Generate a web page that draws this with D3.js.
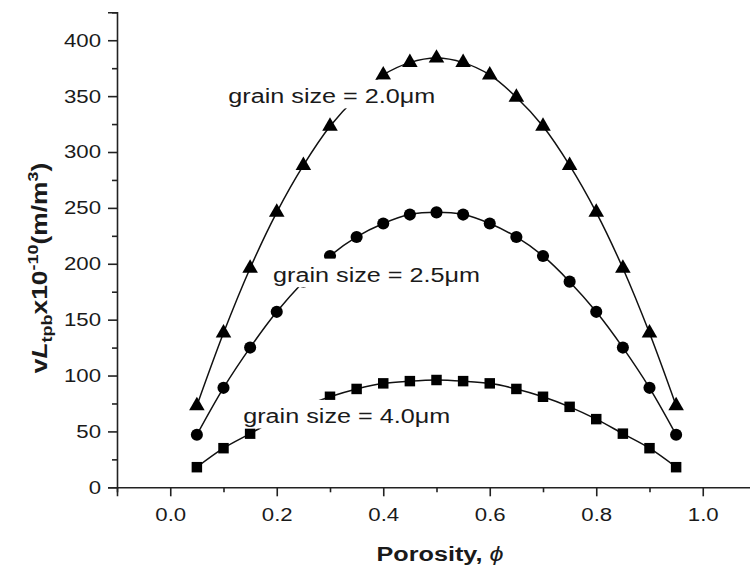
<!DOCTYPE html>
<html>
<head>
<meta charset="utf-8">
<script src="https://cdn.jsdelivr.net/npm/d3@7"></script>
<style>
  body { margin: 0; background: #fff; }
  svg { display: block; font-family: "Liberation Sans", Arial, sans-serif; }
</style>
</head>
<body>
<div id="chart"></div>
<script>
// porosity vs vL_tpb for three grain sizes

const WIDTH = 750
const HEIGHT = 572
const STRETCH = 1.2   // the original text is drawn a bit wide

// data
const porosity = [0.05, 0.10, 0.15, 0.20, 0.25, 0.30, 0.35, 0.40, 0.45, 0.50,
                  0.55, 0.60, 0.65, 0.70, 0.75, 0.80, 0.85, 0.90, 0.95]
const grain20 = [73, 138, 196, 246, 288, 323, 349, 369, 380, 384,
                 380, 369, 349, 323, 288, 246, 196, 138, 73]
const grain25 = [47, 89, 125, 157, 184, 207, 224, 236, 244, 246,
                 244, 236, 224, 207, 184, 157, 125, 89, 47]
const grain40 = [18, 35, 48, 61, 72, 81, 88, 93, 95, 96,
                 95, 93, 88, 81, 72, 61, 48, 35, 18]

const xTicks = [0, 0.2, 0.4, 0.6, 0.8, 1.0]
const xMinor = [-0.1, 0.1, 0.3, 0.5, 0.7, 0.9, 1.1]
const yTicks = [0, 50, 100, 150, 200, 250, 300, 350, 400]
const yMinor = [25, 75, 125, 175, 225, 275, 325, 375, 425]

// label anchors in data units (left end of text, baseline)
const labels = [
    { text: "grain size = 2.0", phi: 0.109, val: 344 },
    { text: "grain size = 2.5", phi: 0.193, val: 184 },
    { text: "grain size = 4.0", phi: 0.137, val: 57.6 }
]

const series = [
    { values: grain20, symbol: d3.symbolTriangle, size: 105 },
    { values: grain25, symbol: d3.symbolCircle, size: 115 },
    { values: grain40, symbol: d3.symbolSquare, size: 110 }
]

const svg = d3.select("#chart").append("svg")
    .attr("width", WIDTH)
    .attr("height", HEIGHT)

const x = d3.scaleLinear().domain([-0.1, 1.1]).range([117, 756])
const y = d3.scaleLinear().domain([0, 425]).range([487.3, 12.3])

// axes
const axisColor = "#222"

const xAxis = svg.append("g")
    .attr("transform", `translate(0, ${y(0)})`)
    .call(d3.axisBottom(x).tickValues(xTicks).tickSize(9).tickPadding(12)
        .tickFormat(d3.format(".1f")))
xAxis.append("g").call(d3.axisBottom(x).tickValues(xMinor).tickSize(5).tickFormat(""))
    .select(".domain").remove()

const yAxis = svg.append("g")
    .attr("transform", `translate(${x(-0.1)}, 0)`)
    .call(d3.axisLeft(y).tickValues(yTicks).tickSize(9).tickPadding(6))
yAxis.append("g").call(d3.axisLeft(y).tickValues(yMinor).tickSize(5).tickFormat(""))
    .select(".domain").remove()

svg.selectAll(".domain, .tick line")
    .attr("stroke", axisColor)
    .attr("stroke-width", 1.6)

xAxis.selectAll(".tick text")
    .attr("font-size", 18.5)
    .attr("fill", "#1a1a1a")
    .attr("transform", `scale(${STRETCH},1)`)

yAxis.selectAll(".tick text")
    .attr("font-size", 18.5)
    .attr("fill", "#1a1a1a")
    .attr("x", 0)
    .attr("transform", `translate(-16,0) scale(${STRETCH},1)`)

// series lines and markers
const line = d3.line()
    .x((d, i) => x(porosity[i]))
    .y(d => y(d))
    .curve(d3.curveCatmullRom)

series.forEach(s => {
    svg.append("path")
        .datum(s.values)
        .attr("d", line)
        .attr("fill", "none")
        .attr("stroke", "#111")
        .attr("stroke-width", 1.5)

    svg.selectAll(null)
        .data(s.values)
        .enter().append("path")
        .attr("d", d3.symbol().type(s.symbol).size(s.size))
        .attr("transform", (d, i) => `translate(${x(porosity[i])}, ${y(d)})`)
        .attr("fill", "#000")
})

// annotations with a white box behind, covering the curve
labels.forEach(l => {
    const g = svg.append("g")
        .attr("transform", `translate(${x(l.phi)}, ${y(l.val)}) scale(${STRETCH},1)`)
    const rect = g.append("rect").attr("fill", "#fff")
    const t = g.append("text")
        .attr("font-size", 21)
        .attr("fill", "#1a1a1a")
    t.append("tspan").text(l.text)
    t.append("tspan").text("\u03bcm")
    const bb = t.node().getBBox()
    rect.attr("x", bb.x - 1)
        .attr("y", bb.y - 4)
        .attr("width", bb.width + 2)
        .attr("height", bb.height + 5)
})

// axis titles
svg.append("text")
    .attr("transform", `translate(440, 561) scale(${STRETCH},1)`)
    .attr("text-anchor", "middle")
    .attr("font-size", 21)
    .attr("fill", "#1a1a1a")
    .call(t => {
        t.append("tspan").attr("font-weight", "bold").text("Porosity, ")
        t.append("tspan").attr("font-style", "italic").text("\u03d5")
    })

const yTitle = svg.append("text")
    .attr("transform", `translate(47, 268) rotate(-90) scale(${STRETCH},1)`)
    .attr("text-anchor", "middle")
    .attr("font-size", 22)
    .attr("font-weight", "bold")
    .attr("fill", "#1a1a1a")

yTitle.append("tspan").text("v")
yTitle.append("tspan").attr("font-style", "italic").text("L")
yTitle.append("tspan").attr("font-size", 15).attr("dy", 5).text("tpb")
yTitle.append("tspan").attr("dy", -5).text("x10")
yTitle.append("tspan").attr("font-size", 15).attr("dy", -9).text("-10")
yTitle.append("tspan").attr("dy", 9).text("(m/m")
yTitle.append("tspan").attr("font-size", 15).attr("dy", -9).text("3")
yTitle.append("tspan").attr("dy", 9).text(")")
</script>
</body>
</html>
